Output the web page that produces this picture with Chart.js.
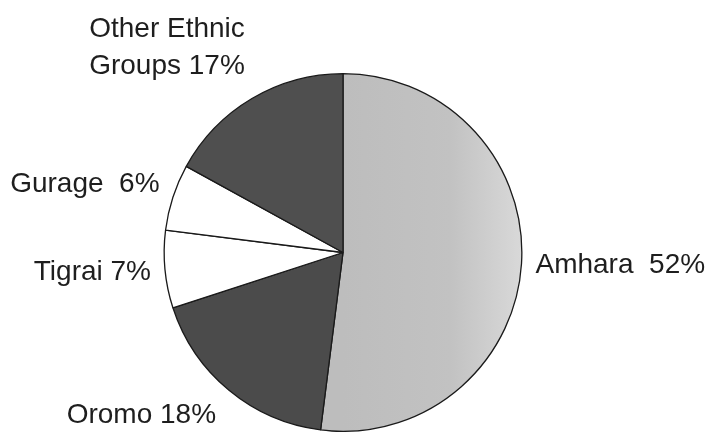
<!DOCTYPE html>
<html>
<head>
<meta charset="utf-8">
<script src="https://cdn.jsdelivr.net/npm/chart.js@4/dist/chart.umd.min.js"></script>
<style>
  html, body { margin: 0; padding: 0; background: #fff; }
  #wrap { width: 710px; height: 432px; position: relative; }
</style>
</head>
<body>
<div id="wrap"><canvas id="ethnicChart"></canvas></div>
<script>
// ethnic groups, clockwise from 12 o'clock
const groups = ['Amhara', 'Oromo', 'Tigrai', 'Gurage', 'Other Ethnic Groups'];
const shares = [52, 18, 7, 6, 17];
// label text as printed next to each slice (lines)
const labelLines = [
  ['Amhara  52%'],
  ['Oromo 18%'],
  ['Tigrai 7%'],
  ['Gurage  6%'],
  ['Other Ethnic', 'Groups 17%']
];
const sliceColors = ['#c4c4c4', '#4b4b4b', '#ffffff', '#ffffff', '#4f4f4f'];

// light slice gets a soft left-to-right shading
function sliceFill(context) {
  const i = context.dataIndex;
  if (i !== 0) return sliceColors[i];
  const chart = context.chart;
  const area = chart.chartArea;
  if (!area) return sliceColors[0];
  const cx = (area.left + area.right) / 2;
  const r = (area.bottom - area.top) / 2;
  const g = chart.ctx.createLinearGradient(cx, 0, cx + r, 0);
  g.addColorStop(0, '#bdbdbd');
  g.addColorStop(0.6, '#c2c2c2');
  g.addColorStop(1, '#d9d9d9');
  return g;
}

// draws the outside labels, anchored just beyond each slice's rim
const outsideLabels = {
  id: 'outsideLabels',
  afterDatasetsDraw(chart) {
    const ctx = chart.ctx;
    const meta = chart.getDatasetMeta(0);
    const fontSize = 28;
    const lineH = 37;
    ctx.save();
    ctx.font = fontSize + 'px "Liberation Sans", Arial, sans-serif';
    ctx.fillStyle = '#1e1e1e';
    ctx.textBaseline = 'middle';
    meta.data.forEach((arc, i) => {
      const mid = (arc.startAngle + arc.endAngle) / 2;
      const dx = Math.cos(mid), dy = Math.sin(mid);
      const gap = 14;
      const ax = arc.x + (arc.outerRadius + gap) * dx;
      const ay = arc.y + (arc.outerRadius + gap) * dy;
      const lines = labelLines[i];
      const w = Math.max(...lines.map(t => ctx.measureText(t).width));
      const h = lines.length * lineH;
      const bx = dx >= 0 ? ax : ax - w + (dy > 0.5 ? -4 : 0);
      // labels above the centre sit a little higher
      const cy = ay + dy * h / 2 + 8 * Math.min(dy, 0);
      ctx.textAlign = 'center';
      lines.forEach((t, k) => {
        const y = cy - h / 2 + lineH * (k + 0.5);
        ctx.fillText(t, bx + w / 2, y);
      });
    });
    ctx.restore();
  }
};

new Chart(document.getElementById('ethnicChart'), {
  type: 'pie',
  data: {
    labels: groups,
    datasets: [{
      data: shares,
      backgroundColor: sliceFill,
      borderColor: '#1a1a1a',
      borderWidth: 1.3
    }]
  },
  options: {
    responsive: true,
    maintainAspectRatio: false,
    animation: false,
    layout: { padding: { top: 73, bottom: 0, left: 152, right: 176 } },
    plugins: {
      legend: { display: false },
      tooltip: { enabled: false }
    }
  },
  plugins: [outsideLabels]
});
</script>
</body>
</html>
